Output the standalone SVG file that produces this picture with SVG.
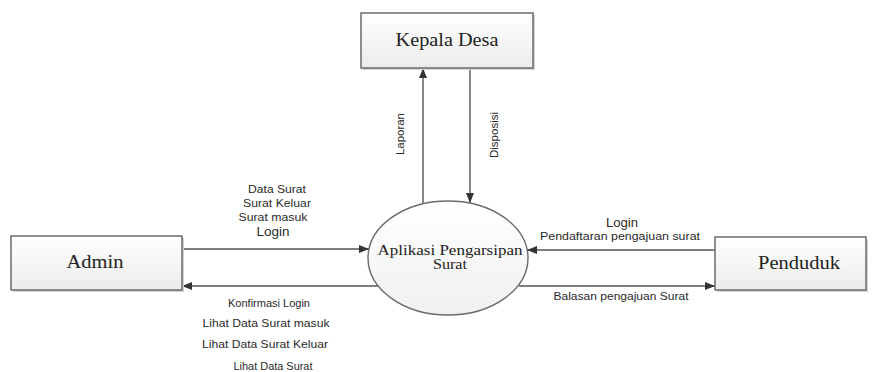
<svg xmlns="http://www.w3.org/2000/svg" width="876" height="372" viewBox="0 0 876 372">
  <defs>
    <linearGradient id="boxFill" x1="0" y1="0" x2="0" y2="1">
      <stop offset="0" stop-color="#ffffff"/>
      <stop offset="1" stop-color="#ececec"/>
    </linearGradient>
    <linearGradient id="procFill" x1="0" y1="0" x2="0" y2="1">
      <stop offset="0" stop-color="#ffffff"/>
      <stop offset="1" stop-color="#f0f0f0"/>
    </linearGradient>
    <marker id="arrow" markerUnits="userSpaceOnUse" markerWidth="11" markerHeight="9" refX="10" refY="4" orient="auto">
      <path d="M0,0 L10,4 L0,8 z" fill="#333"/>
    </marker>
  </defs>
  <style>
    .entity { fill: url(#boxFill); stroke: #6b6b6b; stroke-width: 1.5; }
    .shadow { fill: #d4d4d4; stroke: none; }
    .proc { fill: url(#procFill); stroke: #6b6b6b; stroke-width: 1.4; }
    .title { font-family: "Liberation Serif", "Times New Roman", serif; font-size: 18px; fill: #222; text-anchor: middle; }
    .ptitle { font-family: "Liberation Serif", "Times New Roman", serif; font-size: 14px; fill: #222; text-anchor: middle; }
    .flow { fill: none; stroke: #555; stroke-width: 1.4; marker-end: url(#arrow); }
    .lbl { font-family: "Liberation Sans", Arial, sans-serif; font-size: 10.5px; fill: #2a2a2a; text-anchor: middle; }
    .lbl-lg { font-family: "Liberation Sans", Arial, sans-serif; font-size: 12px; fill: #2a2a2a; text-anchor: middle; }
  </style>

  <rect width="876" height="372" fill="#ffffff"/>

  <!-- data flows -->
  <g id="connectors">
    <line class="flow" x1="182" y1="249" x2="369" y2="249"/>
    <line class="flow" x1="378" y1="286" x2="182" y2="286"/>
    <line class="flow" x1="715" y1="250" x2="527" y2="250"/>
    <line class="flow" x1="519" y1="286" x2="715" y2="286"/>
    <line class="flow" x1="423" y1="204" x2="423" y2="68"/>
    <line class="flow" x1="470" y1="68" x2="470" y2="203"/>

    <text class="lbl" x="277" y="193" textLength="58" lengthAdjust="spacingAndGlyphs">Data Surat</text>
    <text class="lbl" x="277" y="207" textLength="68" lengthAdjust="spacingAndGlyphs">Surat Keluar</text>
    <text class="lbl" x="273" y="221" textLength="69" lengthAdjust="spacingAndGlyphs">Surat masuk</text>
    <text class="lbl-lg" x="273" y="236" textLength="33" lengthAdjust="spacingAndGlyphs">Login</text>

    <text class="lbl" x="269" y="307" textLength="82" lengthAdjust="spacingAndGlyphs">Konfirmasi Login</text>
    <text class="lbl" x="266" y="327" textLength="127" lengthAdjust="spacingAndGlyphs">Lihat Data Surat masuk</text>
    <text class="lbl" x="265" y="348" textLength="126" lengthAdjust="spacingAndGlyphs">Lihat Data Surat Keluar</text>
    <text class="lbl" x="273" y="370" textLength="79" lengthAdjust="spacingAndGlyphs">Lihat Data Surat</text>

    <text class="lbl-lg" x="622" y="227" textLength="32" lengthAdjust="spacingAndGlyphs">Login</text>
    <text class="lbl" x="620" y="240" textLength="160" lengthAdjust="spacingAndGlyphs">Pendaftaran pengajuan surat</text>
    <text class="lbl" x="621" y="300" textLength="135" lengthAdjust="spacingAndGlyphs">Balasan pengajuan Surat</text>

    <text class="lbl" transform="translate(404,134) rotate(-90)" textLength="42" lengthAdjust="spacingAndGlyphs">Laporan</text>
    <text class="lbl" transform="translate(498,135) rotate(-90)" textLength="46" lengthAdjust="spacingAndGlyphs">Disposisi</text>
  </g>

  <!-- external entities -->
  <g id="kepala-desa">
    <rect class="shadow" x="363" y="15" width="172" height="55"/>
    <rect class="entity" x="361" y="13" width="172" height="55"/>
    <text class="title" x="447" y="46" textLength="103" lengthAdjust="spacingAndGlyphs">Kepala Desa</text>
  </g>

  <g id="admin">
    <rect class="shadow" x="13" y="238" width="171" height="54"/>
    <rect class="entity" x="11" y="236" width="171" height="54"/>
    <text class="title" x="95" y="268" textLength="57" lengthAdjust="spacingAndGlyphs">Admin</text>
  </g>

  <g id="penduduk">
    <rect class="shadow" x="717" y="239" width="151" height="53"/>
    <rect class="entity" x="715" y="237" width="151" height="53"/>
    <text class="title" x="799" y="269" textLength="82" lengthAdjust="spacingAndGlyphs">Penduduk</text>
  </g>

  <!-- process -->
  <g id="aplikasi">
    <ellipse class="proc" cx="448" cy="258" rx="80" ry="57"/>
    <text class="ptitle" x="450" y="255" textLength="145" lengthAdjust="spacingAndGlyphs">Aplikasi Pengarsipan</text>
    <text class="ptitle" x="450" y="269" textLength="34" lengthAdjust="spacingAndGlyphs">Surat</text>
  </g>
</svg>
